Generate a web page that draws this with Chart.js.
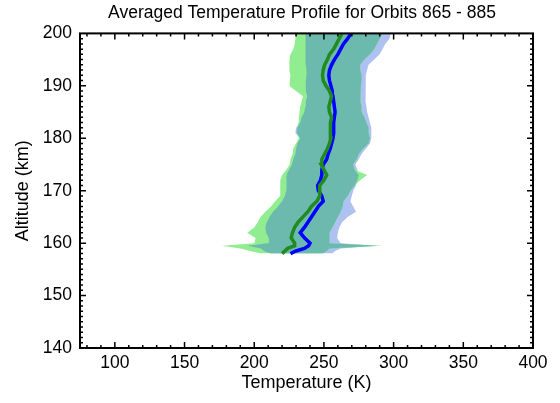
<!DOCTYPE html>
<html>
<head>
<meta charset="utf-8">
<script src="https://cdn.jsdelivr.net/npm/chart.js@4.4.0/dist/chart.umd.min.js"></script>
<style>
  html, body { margin: 0; padding: 0; background: #fff; }
</style>
</head>
<body>
<canvas id="profile" width="560" height="403"></canvas>
<script>
// altitude levels (km), bottom to top
const altitudes = [158, 158.5, 159, 159.5, 160, 161, 162, 163, 164, 165, 166, 167, 168, 169, 170,
    171, 172, 173, 174, 175, 176, 177, 178, 179, 180, 181, 182, 183, 184, 185,
    186, 187, 188, 189, 190, 191, 192, 193, 194, 195, 196, 197, 198, 199, 200];

// mean temperature profiles (K)
const blueMean = [226, 230, 236, 239, 240, 236, 233, 236, 238.5, 241, 243.5, 246, 249.5, 248.5, 246,
    245.5, 247.5, 248.5, 248.5, 249.5, 252, 253, 254.5, 255.5, 256.5, 257, 257, 257, 257.5, 258,
    257.5, 257, 256.5, 256, 255, 254, 253.5, 254, 255.5, 257.5, 260, 262, 264, 267, 269.5];
const greenMean = [220, 222, 224, 229, 229, 226.5, 227.5, 229, 231.5, 235, 238.5, 241, 245, 247, 247,
    247, 250, 252, 250, 248, 248.5, 250.5, 252.5, 254, 255, 254.5, 254.5, 255, 255.5, 254,
    253.5, 254.5, 255.5, 254, 251.5, 249.5, 249, 249.5, 250.5, 252.5, 254, 257, 259, 261, 263];

// spread of each profile set (K)
const blueLo = [212, 207, 205, 195, 210, 210.5, 208.5, 208, 209, 211, 213.5, 217, 220, 222, 223,
    223.5, 223, 223, 225, 227, 228, 229.5, 230, 231, 233, 229.5, 230, 233, 234, 236,
    236.5, 237, 238, 237, 237, 237, 237.5, 237.5, 237, 237, 236.5, 236.5, 237, 237, 237];
const blueHi = [256, 258, 262, 288, 262, 259.5, 260, 261, 263, 267, 273, 271, 269, 270, 271,
    273, 274, 275, 274, 272.5, 275, 277, 280, 283, 284, 284, 284, 283, 282, 281,
    280.5, 280, 280, 280, 280, 279.5, 280, 281, 282, 286, 290, 292, 294, 297, 298];
const greenLo = [205, 197, 190, 177, 200, 201, 195, 200, 202.5, 204.5, 208, 212, 215, 218.5, 219,
    218.5, 218.5, 220, 223, 225.5, 226, 227.5, 228, 230, 232, 230.5, 231, 231.5, 232, 232.5,
    233, 234, 235, 230, 225, 225.5, 226, 225, 225, 225.5, 226, 228, 229, 229.5, 230];
const greenHi = [249, 252, 254, 292, 254, 254, 254, 256, 258, 260, 262, 263.5, 264, 267, 269,
    272, 276, 281, 272, 271, 273.5, 275, 278, 282, 283, 282, 282, 280.5, 279, 277,
    277, 276.5, 276, 276, 276.5, 277, 277, 276, 276, 279, 283, 286, 288, 290, 292];

const tempTicks = [100, 150, 200, 250, 300, 350, 400];
const altTicks = [140, 150, 160, 170, 180, 190, 200];

const TITLE = 'Averaged Temperature Profile for Orbits 865 - 885';
const FONT = "'Liberation Sans', Arial, sans-serif";

function toPoints(temps) {
    return temps.map((t, i) => ({x: t, y: altitudes[i]}));
}

// where both spreads overlap
const overlapLo = blueLo.map((v, i) => Math.max(v, greenLo[i]));
const overlapHi = blueHi.map((v, i) => Math.min(v, greenHi[i]));

function band(temps, fill, color) {
    return {
        data: toPoints(temps),
        fill: fill,
        backgroundColor: color,
        borderWidth: 0,
        borderColor: 'rgba(0,0,0,0)',
        pointRadius: 0
    };
}

// IDL-style frame with inward ticks on all four sides, plus the title
const frameTicks = {
    id: 'frameTicks',
    afterDatasetsDraw(chart) {
        const {ctx, chartArea: a, scales: {x, y}} = chart;
        ctx.save();
        ctx.strokeStyle = '#000';
        ctx.lineWidth = 1.5;
        ctx.beginPath();
        for (let t = 80; t < 400; t += 10) {
            const px = x.getPixelForValue(t);
            const len = t % 50 === 0 ? 6 : 3;
            ctx.moveTo(px, a.bottom);
            ctx.lineTo(px, a.bottom - len);
            ctx.moveTo(px, a.top);
            ctx.lineTo(px, a.top + len);
        }
        for (let h = 141; h < 200; h++) {
            const py = y.getPixelForValue(h);
            const len = h % 10 === 0 ? 6 : 3;
            ctx.moveTo(a.left, py);
            ctx.lineTo(a.left + len, py);
            ctx.moveTo(a.right, py);
            ctx.lineTo(a.right - len, py);
        }
        ctx.stroke();
        ctx.lineWidth = 2;
        ctx.strokeRect(a.left, a.top, a.right - a.left, a.bottom - a.top);

        ctx.fillStyle = '#000';
        ctx.font = '17.5px ' + FONT;
        ctx.textAlign = 'center';
        ctx.textBaseline = 'middle';
        ctx.fillText(TITLE, 302, 13);
        ctx.restore();
    }
};

new Chart(document.getElementById('profile').getContext('2d'), {
    type: 'line',
    data: {
        datasets: [
            {data: toPoints(greenMean), borderColor: '#218a21', borderWidth: 3.5, pointRadius: 0, fill: false},
            {data: toPoints(blueMean), borderColor: '#0000ff', borderWidth: 3.5, pointRadius: 0, fill: false},
            band(overlapLo, '+1', '#6cb9ae'),
            band(overlapHi, false, 'rgba(0,0,0,0)'),
            band(greenLo, '+1', '#90ee90'),
            band(greenHi, false, 'rgba(0,0,0,0)'),
            band(blueLo, '+1', '#adc2f0'),
            band(blueHi, false, 'rgba(0,0,0,0)')
        ]
    },
    options: {
        responsive: false,
        animation: false,
        indexAxis: 'y',
        layout: {padding: {left: 0, right: 27, top: 33.4, bottom: 0}},
        plugins: {
            legend: {display: false},
            tooltip: {enabled: false},
            title: {display: false}
        },
        scales: {
            x: {
                type: 'linear',
                min: 75,
                max: 400,
                afterBuildTicks: s => { s.ticks = tempTicks.map(v => ({value: v})); },
                afterFit: s => { s.height = 55; },
                grid: {display: false, drawTicks: false},
                border: {display: false},
                ticks: {padding: 5, color: '#000', font: {family: FONT, size: 17.5}},
                title: {
                    display: true,
                    text: 'Temperature (K)',
                    color: '#000',
                    font: {family: FONT, size: 18},
                    padding: {top: 0, bottom: 9}
                }
            },
            y: {
                type: 'linear',
                min: 140,
                max: 200,
                afterBuildTicks: s => { s.ticks = altTicks.map(v => ({value: v})); },
                afterFit: s => { s.width = 80; },
                grid: {display: false, drawTicks: false},
                border: {display: false},
                ticks: {padding: 8, color: '#000', font: {family: FONT, size: 17.5}},
                title: {
                    display: true,
                    text: 'Altitude (km)',
                    color: '#000',
                    font: {family: FONT, size: 18},
                    padding: {top: 12, bottom: 0}
                }
            }
        }
    },
    plugins: [frameTicks]
});
</script>
</body>
</html>
